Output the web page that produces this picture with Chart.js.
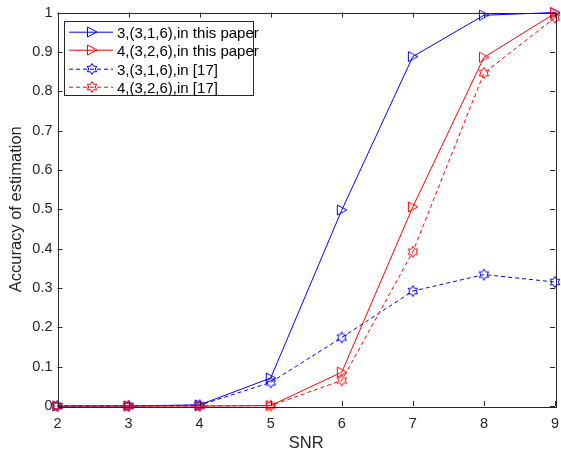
<!DOCTYPE html>
<html>
<head>
<meta charset="utf-8">
<script src="https://cdn.jsdelivr.net/npm/chart.js@4"></script>
<style>
  html, body { margin: 0; padding: 0; background: #fff; }
  #wrap { width: 561px; height: 453px; }
</style>
</head>
<body>
<div id="wrap"><canvas id="c" width="561" height="453"></canvas></div>
<script>
// ---- data ----
const snr = [2, 3, 4, 5, 6, 7, 8, 9];
const paper316 = [0, 0, 0.003, 0.071, 0.498, 0.888, 0.993, 1.0];
const paper326 = [0, 0, 0.0, 0.001, 0.086, 0.506, 0.886, 0.998];
const ref316 = [0, 0, 0.002, 0.060, 0.174, 0.292, 0.334, 0.315];
const ref326 = [0, 0, 0.0, 0.001, 0.065, 0.392, 0.846, 0.987];
const seriesLabels = ['3,(3,1,6),in this paper', '4,(3,2,6),in this paper', '3,(3,1,6),in [17]', '4,(3,2,6),in [17]'];
const xTicks = [2, 3, 4, 5, 6, 7, 8, 9];
const yTicks = [0, 0.1, 0.2, 0.3, 0.4, 0.5, 0.6, 0.7, 0.8, 0.9, 1];

const BLUE = 'rgb(0,0,255)', RED = 'rgb(255,0,0)', AX = '#262626';
const FONT = '"Liberation Sans", Arial, Helvetica, sans-serif';

function triMarker(color) {
  const c = document.createElement('canvas'); c.width = 14; c.height = 14;
  const g = c.getContext('2d');
  g.strokeStyle = color; g.lineWidth = 1;
  g.beginPath(); g.moveTo(2.5, 2); g.lineTo(12, 7); g.lineTo(2.5, 12); g.closePath(); g.stroke();
  return c;
}
function hexMarker(color) {
  const c = document.createElement('canvas'); c.width = 14; c.height = 14;
  const g = c.getContext('2d');
  g.strokeStyle = color; g.lineWidth = 1;
  const R = 5.5, r = R / Math.sqrt(3), cx = 7, cy = 7;
  g.beginPath();
  for (let k = 0; k < 12; k++) {
    const a = (k * 30 - 90) * Math.PI / 180;
    const rr = k % 2 === 0 ? R : r;
    const px = cx + rr * Math.cos(a), py = cy + rr * Math.sin(a);
    if (k === 0) g.moveTo(px, py); else g.lineTo(px, py);
  }
  g.closePath(); g.stroke();
  return c;
}
const seriesColors = [BLUE, RED, BLUE, RED];
const markers = seriesColors.map((col, i) => i < 2 ? triMarker(col) : hexMarker(col));
const dashes = [[], [], [4, 3], [4, 3]];
const values = [paper316, paper326, ref316, ref326];

const datasets = values.map((v, i) => ({
  label: seriesLabels[i],
  data: snr.map((x, j) => ({ x: x, y: v[j] })),
  borderColor: seriesColors[i],
  borderWidth: 1,
  borderDash: dashes[i],
  pointStyle: markers[i],
  pointRadius: 5,
  pointHoverRadius: 5,
  backgroundColor: 'transparent',
  tension: 0,
  clip: false,
  order: 4 - i
}));

const matlabAxes = {
  id: 'matlabAxes',
  afterDatasetsDraw(chart) {
    const { ctx, chartArea: a, scales: { x, y } } = chart;
    ctx.save();
    ctx.strokeStyle = AX; ctx.lineWidth = 1;
    const L = 5;
    ctx.beginPath();
    xTicks.forEach(t => {
      const px = Math.round(x.getPixelForValue(t)) + 0.5;
      ctx.moveTo(px, a.bottom); ctx.lineTo(px, a.bottom - L);
      ctx.moveTo(px, a.top); ctx.lineTo(px, a.top + L);
    });
    yTicks.forEach(t => {
      const py = Math.round(y.getPixelForValue(t)) + 0.5;
      ctx.moveTo(a.left, py); ctx.lineTo(a.left + L, py);
      ctx.moveTo(a.right, py); ctx.lineTo(a.right - L, py);
    });
    ctx.stroke();
    ctx.strokeRect(Math.round(a.left) + 0.5, Math.round(a.top) + 0.5, Math.round(a.right - a.left), Math.round(a.bottom - a.top));
    ctx.restore();
  },
  afterDraw(chart) {
    const ctx = chart.ctx;
    const bx = 64.5, by = 21.5, bw = 189, bh = 74;
    ctx.save();
    ctx.setLineDash([]);
    ctx.fillStyle = '#ffffff';
    ctx.fillRect(bx, by, bw, bh);
    ctx.strokeStyle = AX; ctx.lineWidth = 1;
    ctx.strokeRect(bx, by, bw, bh);
    ctx.font = '15px ' + FONT;
    ctx.textBaseline = 'middle';
    for (let i = 0; i < seriesLabels.length; i++) {
      const ry = Math.round(32 + i * 18.3);
      ctx.beginPath();
      ctx.lineWidth = 1;
      ctx.strokeStyle = seriesColors[i];
      ctx.setLineDash(dashes[i]);
      ctx.moveTo(69, ry + 0.2);
      ctx.lineTo(113, ry + 0.2);
      ctx.stroke();
      ctx.setLineDash([]);
      ctx.drawImage(markers[i], 92 - 7, ry - 7);
      ctx.fillStyle = '#000000';
      ctx.fillText(seriesLabels[i], 117, ry + 1.5);
    }
    ctx.restore();
  }
};

new Chart(document.getElementById('c'), {
  type: 'line',
  data: { datasets },
  plugins: [matlabAxes],
  options: {
    responsive: false,
    animation: false,
    events: [],
    layout: { padding: { left: 0, top: 12.5, right: 4, bottom: 0 } },
    plugins: { legend: { display: false }, tooltip: { enabled: false } },
    scales: {
      x: {
        type: 'linear', min: 2, max: 9,
        afterBuildTicks: s => { s.ticks = xTicks.map(v => ({ value: v })); },
        ticks: { color: AX, font: { family: FONT, size: 14.5 }, padding: 9, maxRotation: 0 },
        grid: { display: false, drawTicks: false },
        border: { display: false },
        title: { display: true, text: 'SNR', color: AX, font: { family: FONT, size: 16.5 }, padding: { top: 3, bottom: 0 } },
        afterFit: s => { s.height = 47; s.paddingLeft = 0; s.paddingRight = 0; }
      },
      y: {
        type: 'linear', min: 0, max: 1,
        afterBuildTicks: s => { s.ticks = yTicks.map(v => ({ value: v })); },
        ticks: { color: AX, font: { family: FONT, size: 14.5 }, padding: 5,
          callback: v => String(Math.round(v * 10) / 10) },
        grid: { display: false, drawTicks: false },
        border: { display: false },
        title: { display: true, text: 'Accuracy of estimation', color: AX, font: { family: FONT, size: 16.5 }, padding: { top: 7, bottom: 0 } },
        afterFit: s => { s.width = 57.5; s.paddingTop = 0; s.paddingBottom = 0; }
      }
    }
  }
});
</script>
</body>
</html>
